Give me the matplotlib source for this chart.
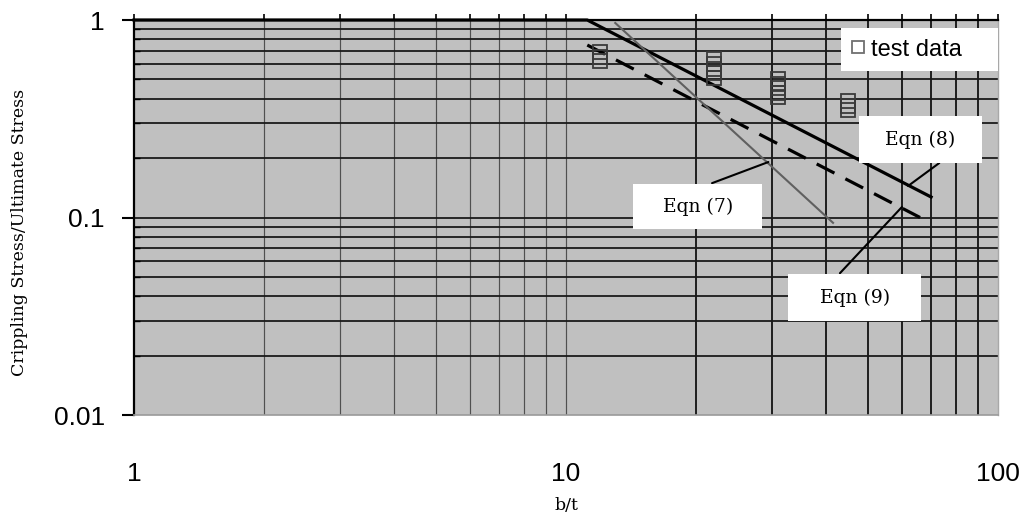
import matplotlib.pyplot as plt
from matplotlib.patches import Rectangle
from matplotlib.ticker import FuncFormatter, NullFormatter

# Eqn (8): cut-off at 1, then power-law decay
eqn8_bt = [1, 11.2, 70]
eqn8_ratio = [1.0, 1.0, 0.127]

# Eqn (9): dashed
eqn9_bt = [11.2, 66]
eqn9_ratio = [0.747, 0.100]

# Eqn (7): grey
eqn7_bt = [13.0, 41.5]
eqn7_ratio = [0.966, 0.094]

# test data (stacked squares at four b/t values)
test_bt = [12, 12, 12,
           22, 22, 22, 22, 22,
           31, 31, 31, 31, 31,
           45, 45, 45]
test_ratio = [0.690, 0.653, 0.620,
              0.635, 0.600, 0.568, 0.538, 0.508,
              0.503, 0.477, 0.453, 0.429, 0.408,
              0.389, 0.369, 0.350]

eqn_labels = ["Eqn (7)", "Eqn (8)", "Eqn (9)"]
# point on each curve where the leader line touches
eqn_tip_bt = [29.4, 61.9, 59.9]
eqn_tip_ratio = [0.191, 0.1444, 0.113]

SERIF = "DejaVu Serif"
SANS = "Liberation Sans"


def plot_crippling():
    fig = plt.figure(figsize=(10.27, 5.2), dpi=100)
    ax = fig.add_axes([0.1305, 0.2019, 0.8413, 0.7596])
    ax.set_facecolor("#c0c0c0")
    ax.set_xscale("log")
    ax.set_yscale("log")
    ax.set_xlim(1, 100)
    ax.set_ylim(0.01, 1)

    # grid lines drawn from the axis' own tick locations
    xlocs = list(ax.xaxis.get_majorticklocs()) + list(ax.xaxis.get_minorticklocs())
    for x in xlocs:
        if 1 < x < 99.9:
            dark = x > 10.5
            ax.axvline(x, color="#111111" if dark else "#505050",
                       lw=1.3 if dark else 0.85, zorder=1)
    ylocs = list(ax.yaxis.get_majorticklocs()) + list(ax.yaxis.get_minorticklocs())
    for y in ylocs:
        if 0.0101 < y < 0.999:
            ax.axhline(y, color="#1a1a1a", lw=1.3, zorder=1)

    ax.plot(eqn8_bt, eqn8_ratio, color="black", lw=2.3, zorder=3, clip_on=False)
    ax.plot(eqn9_bt, eqn9_ratio, color="black", lw=2.3, ls=(0, (6.26, 3.85)), zorder=3)
    ax.plot(eqn7_bt, eqn7_ratio, color="#606060", lw=1.5, zorder=3)
    ax.plot(test_bt, test_ratio, "s", ms=10, mfc="none", mec="#3a3a3a", mew=1.3,
            zorder=4, label="test data")

    leg = ax.legend(loc="upper left", bbox_to_anchor=(0.818, 0.861, 0.182, 0.119),
                    mode="expand", borderaxespad=0, frameon=True, fancybox=False,
                    framealpha=1, facecolor="white", edgecolor="none",
                    borderpad=0.45, handlelength=0.6, handletextpad=0.25,
                    prop={"family": SANS, "size": 17})
    leg.get_frame().set_linewidth(0)
    leg.set_zorder(8)
    for h in leg.legend_handles:
        h.set_markersize(9)
        h.set_markeredgecolor("#707070")
        h.set_markerfacecolor("white")

    # label boxes and leader lines
    boxes = [(0.578, 0.471, 0.149, 0.114),
             (0.839, 0.638, 0.142, 0.119),
             (0.757, 0.238, 0.154, 0.119)]
    leader_ends = [(0.669, 0.587), (0.932, 0.638), (0.817, 0.359)]
    for label, (bx, by, bw, bh), tx, ty, end in zip(
            eqn_labels, boxes, eqn_tip_bt, eqn_tip_ratio, leader_ends):
        ax.annotate("", xy=(tx, ty), xycoords="data", xytext=end,
                    textcoords="axes fraction",
                    arrowprops=dict(arrowstyle="-", color="black", lw=1.5,
                                    shrinkA=0, shrinkB=0), zorder=5)
        ax.add_patch(Rectangle((bx, by), bw, bh, transform=ax.transAxes,
                               fc="white", ec="none", zorder=6))
        ax.text(bx + bw / 2, by + bh / 2, label, transform=ax.transAxes,
                ha="center", va="center", family=SERIF, size=13.5, zorder=7)

    # ticks
    fmt = FuncFormatter(lambda v, _: f"{v:g}")
    ax.xaxis.set_major_formatter(fmt)
    ax.yaxis.set_major_formatter(fmt)
    ax.xaxis.set_minor_formatter(NullFormatter())
    ax.yaxis.set_minor_formatter(NullFormatter())
    ax.tick_params(axis="x", which="both", bottom=False, top=True,
                   direction="out", length=4, width=1.2,
                   labelbottom=True, labeltop=False)
    ax.tick_params(axis="x", which="major", pad=30, labelsize=19)
    ax.tick_params(axis="y", which="major", direction="out", length=9,
                   width=1.5, pad=12, labelsize=19)
    ax.tick_params(axis="y", which="minor", direction="in", length=4, width=1)
    for lab in ax.get_xticklabels() + ax.get_yticklabels():
        lab.set_fontfamily(SANS)

    ax.spines["left"].set_linewidth(1.6)
    ax.spines["top"].set_linewidth(1.6)
    ax.spines["bottom"].set_color("#9a9a9a")
    ax.spines["bottom"].set_linewidth(1.2)
    ax.spines["right"].set_color("#a8a8a8")
    ax.spines["right"].set_linewidth(1.0)

    fig.text(20 / 1027, 1 - 232 / 520, "Crippling Stress/Ultimate Stress",
             rotation=90, ha="center", va="center", family=SERIF, size=12.5)
    fig.text(566 / 1027, 1 - 505 / 520, "b/t", ha="center", va="center",
             family=SERIF, size=12.5)

    fig.savefig("out.png", dpi=100)
    plt.close(fig)


if __name__ == "__main__":
    plot_crippling()
